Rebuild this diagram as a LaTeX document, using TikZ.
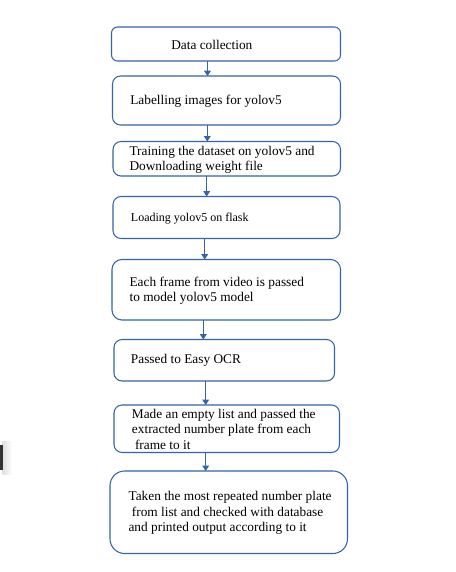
\documentclass[tikz,border=0pt]{standalone}
\usepackage{fontspec}
\setmainfont{Liberation Serif}
\usetikzlibrary{arrows.meta}
\definecolor{flowblue}{RGB}{52,101,164}
\begin{document}
\begin{tikzpicture}[x=0.75pt,y=-0.75pt,
  box/.style={draw=flowblue,line width=0.8pt,inner sep=0pt,outer sep=0pt},
  txt/.style={anchor=west,align=left,inner sep=0pt,font=\fontsize{10}{11.5}\selectfont},
  arr/.style={draw=flowblue,line width=0.8pt,-{Triangle[length=4pt,width=5pt]}}]
\useasboundingbox (0,0) rectangle (455,572);
\fill[white] (0,0) rectangle (455,572);
% stray mark at left edge
\shade[left color=black!12,right color=white] (2.7,441) rectangle (12,474);
\fill[black!80] (0,445) rectangle (2.7,470);
% boxes
\node[box,rounded corners=6pt*0.75,minimum width=171.75pt,minimum height=25.5pt] (b1) at (226,44) {};
\node[box,rounded corners=6pt,minimum width=171pt,minimum height=36.75pt] (b2) at (226.5,100.5) {};
\node[box,rounded corners=6pt,minimum width=170.6pt,minimum height=25.9pt] (b3) at (226.75,158.75) {};
\node[box,rounded corners=6pt,minimum width=170.25pt,minimum height=31.5pt] (b4) at (226.5,217.5) {};
\node[box,rounded corners=7.5pt,minimum width=171.4pt,minimum height=45.4pt] (b5) at (226.25,289.75) {};
\node[box,rounded corners=6pt,minimum width=165.4pt,minimum height=31.1pt] (b6) at (224.25,360.25) {};
\node[box,rounded corners=6pt,minimum width=169.1pt,minimum height=35.6pt] (b7) at (226.75,428.75) {};
\node[box,rounded corners=11pt,minimum width=178.1pt,minimum height=61.9pt] (b8) at (228.75,512.25) {};
% texts
\node[txt] (t1) at (171,44.5) {Data collection};
\node[txt] (t2) at (130,101.5) {Labelling images for yolov5};
\node[txt] (t3) at (129.3,159.5) {Training the dataset on yolov5 and\\Downloading weight file};
\node[txt,font=\fontsize{9}{11}\selectfont] (t4) at (130.7,218.3) {Loading yolov5 on flask};
\node[txt] (t5) at (129.3,291) {Each frame from video is passed\\to model yolov5 model};
\node[txt] (t6) at (130.7,360.7) {Passed to Easy OCR};
\node[txt] (t7) at (131.7,429.3) {Made an empty list and passed the\\extracted number plate from each\\\hspace{2.3pt}frame to it};
\node[txt] (t8) at (128.3,513) {Taken the most repeated number plate\\\hspace{2.5pt}from list and checked with database\\and printed output according to it};
% arrow columns
\coordinate (x1) at (207.5,0);
\coordinate (x2) at (207.3,0);
\coordinate (x3) at (206.7,0);
\coordinate (x4) at (204.7,0);
\coordinate (x5) at (203.3,0);
\coordinate (x6) at (205.7,0);
\coordinate (x7) at (205.7,0);
\draw[arr] (b1.south -| x1) -- (b2.north -| x1);
\draw[arr] (b2.south -| x2) -- (b3.north -| x2);
\draw[arr] (b3.south -| x3) -- (b4.north -| x3);
\draw[arr] (b4.south -| x4) -- (b5.north -| x4);
\draw[arr] (b5.south -| x5) -- (b6.north -| x5);
\draw[arr] (b6.south -| x6) -- (b7.north -| x6);
\draw[arr] (b7.south -| x7) -- (b8.north -| x7);
\end{tikzpicture}
\end{document}
